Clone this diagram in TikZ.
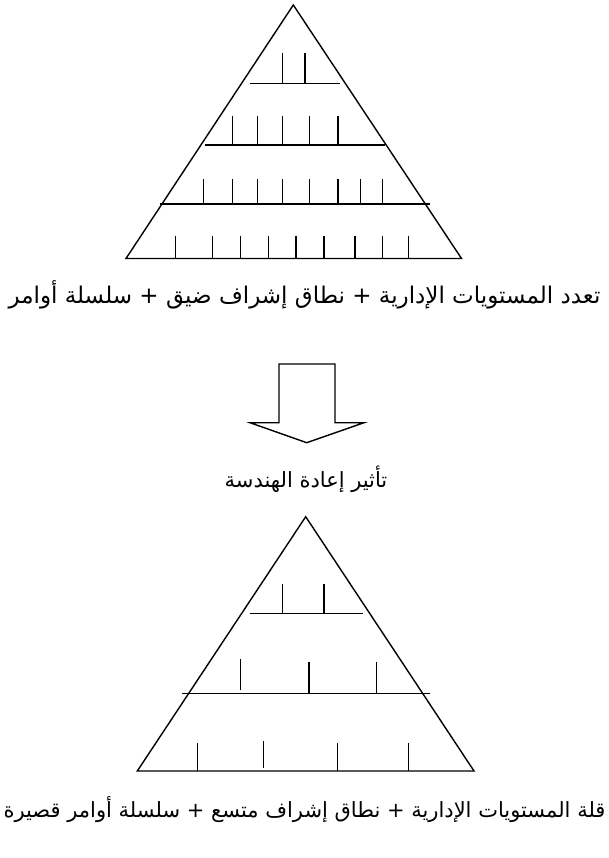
\documentclass[tikz,border=0pt]{standalone}
\usepackage{fontspec}
\TeXXeTstate=1
\newfontfamily\arabicfont[Script=Arabic]{DejaVu Sans}
\tikzset{
  pline/.style={line width=1.4pt, line join=miter},
  lbl/.style={font=\arabicfont\fontsize{21}{25}\selectfont, inner sep=0pt, anchor=base}
}
\begin{document}
\begin{tikzpicture}[x=1pt,y=-1pt]
\useasboundingbox (0,0) rectangle (609,858);
% ---- top pyramid ----
\draw[pline] (293.3,5) -- (461.5,258.5) -- (126,258.5) -- cycle;
\draw[pline] (250,83.3) -- (340,83.3);
\foreach \x in {282.7,305} \draw[pline] (\x,52.7) -- (\x,83.3);
\draw[pline] (205,145) -- (385,145);
\foreach \x in {232.7,257.3,282.7,309.3,338} \draw[pline] (\x,116) -- (\x,145);
\draw[pline] (160,204) -- (430,204);
\foreach \x in {203.3,232.7,257.3,282.7,309.3,338,360.7,382.7} \draw[pline] (\x,179.3) -- (\x,204);
\foreach \x in {175.3,212.7,240.7,268.3,296,324,355,382.7,408.3} \draw[pline] (\x,236) -- (\x,258.5);
\node[lbl, font=\arabicfont\fontsize{23}{27}\selectfont] (t1) at (304.5,303) {\beginR تعدد المستويات الإدارية + نطاق إشراف ضيق + سلسلة أوامر\endR};
% ---- arrow ----
\draw[pline] (279,364) -- (335,364) -- (335,422.7) -- (364,422.7) -- (306.7,442.7) -- (250,422.7) -- (279,422.7) -- cycle;
\node[lbl] (t2) at (306,487) {\beginR تأثير إعادة الهندسة\endR};
% ---- bottom pyramid ----
\draw[pline] (305.7,516.7) -- (474,771) -- (137.3,771) -- cycle;
\draw[pline] (250,613.3) -- (362.7,613.3);
\foreach \x in {282.7,324} \draw[pline] (\x,584.3) -- (\x,613.3);
\draw[pline] (182.3,693.3) -- (430,693.3);
\draw[pline] (240.7,659) -- (240.7,690);
\foreach \x in {309,376.7} \draw[pline] (\x,662) -- (\x,693.3);
\foreach \x in {197.7,337.3,408.3} \draw[pline] (\x,743.3) -- (\x,771);
\draw[pline] (263.3,741) -- (263.3,768);
\node[lbl] (t3) at (304.5,817) {\beginR قلة المستويات الإدارية + نطاق إشراف متسع + سلسلة أوامر قصيرة\endR};
\end{tikzpicture}
\end{document}
